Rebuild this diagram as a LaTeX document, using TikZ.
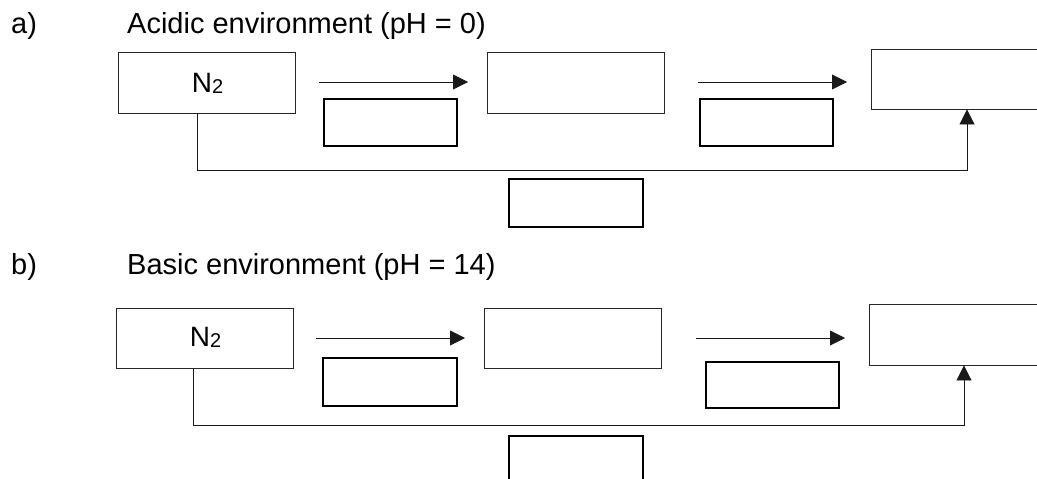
\documentclass[tikz,border=0pt]{standalone}
\usepackage{fontspec}
\setmainfont{Liberation Sans}
\usetikzlibrary{arrows.meta}
\tikzset{
  bigbox/.style={draw=black!85, line width=0.9pt, rectangle, minimum width=177pt, minimum height=61pt, inner sep=0pt},
  smallbox/.style={draw=black, line width=1.4pt, rectangle, minimum width=133pt, minimum height=47pt, inner sep=0pt},
  conn/.style={draw=black!90, line width=0.9pt},
  arr/.style={conn, -{Triangle[length=15pt,width=15pt]}},
  head/.style={anchor=base west, inner sep=0pt, font=\fontsize{29}{34}\selectfont},
  chem/.style={anchor=base, inner sep=0pt, font=\fontsize{28}{33}\selectfont},
}
\newcommand{\mynitro}{N\raisebox{-1.8pt}{\fontsize{20}{21}\selectfont 2}}
\begin{document}
\begin{tikzpicture}[x=1pt, y=-1pt]
\useasboundingbox (0,0) rectangle (1037,479);
\fill[white] (0,0) rectangle (1037,479);
\clip (0,0) rectangle (1037,479);

% ---------- part a ----------
\node[head] (la) at (11,33) {a)};
\node[head] (ta) at (127,33) {Acidic environment (pH = 0)};

\node[bigbox] (a1) at (206.5,82.5) {};
\node[chem] (na) at (207.5,92) {\mynitro};
\node[bigbox] (a2) at (575.5,82.5) {};
\node[bigbox, minimum height=60pt] (a3) at (959.5,79) {};
\node[smallbox] (a4) at (390.5,122.5) {};
\node[smallbox] (a5) at (766.5,122.5) {};
\node[smallbox, minimum width=134pt, minimum height=48pt] (a6) at (576,203) {};

\coordinate (a12s) at (319,82);
\coordinate (a12e) at (468,82);
\coordinate (a23s) at (698,82);
\coordinate (a23e) at (847,82);
\draw[arr] (a12s) -- (a12e);
\draw[arr] (a23s) -- (a23e);
\coordinate (ya) at (0,170);
\draw[arr] ([xshift=-9.5pt]a1.south) -- ([xshift=-9.5pt]a1.south |- ya) -| ([xshift=7.5pt]a3.south);

% ---------- part b ----------
\node[head] (lb) at (11,274) {b)};
\node[head] (tb) at (127,274) {Basic environment (pH = 14)};

\node[bigbox, minimum height=60pt] (b1) at (204.5,338) {};
\node[chem] (nb) at (205.5,346) {\mynitro};
\node[bigbox, minimum height=60pt] (b2) at (572.5,338) {};
\node[bigbox] (b3) at (957.5,334.5) {};
\node[smallbox, minimum width=134pt, minimum height=48pt] (b4) at (390,382) {};
\node[smallbox, minimum height=46pt] (b5) at (772.5,385) {};
\node[smallbox, minimum width=134pt, minimum height=48pt] (b6) at (576,460) {};

\coordinate (b12s) at (316,338);
\coordinate (b12e) at (465,338);
\coordinate (b23s) at (696,338);
\coordinate (b23e) at (845,338);
\draw[arr] (b12s) -- (b12e);
\draw[arr] (b23s) -- (b23e);
\coordinate (yb) at (0,425);
\draw[arr] ([xshift=-11.5pt]b1.south) -- ([xshift=-11.5pt]b1.south |- yb) -| ([xshift=6.5pt]b3.south);
\end{tikzpicture}
\end{document}
